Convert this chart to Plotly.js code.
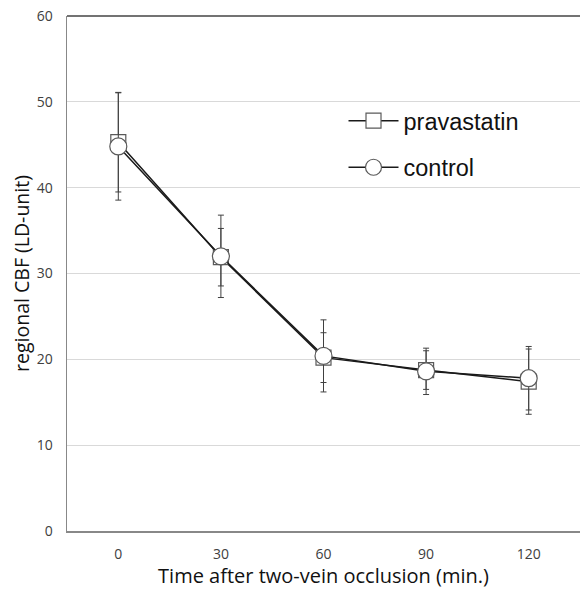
<!DOCTYPE html>
<html>
<head>
<meta charset="utf-8">
<script src="https://cdn.plot.ly/plotly-3.0.1.min.js"></script>
<style>html,body{margin:0;padding:0;background:#fff;}#chart{width:580px;height:589px;}</style>
</head>
<body>
<div id="chart"></div>
<script>
// Data
const timePoints = [0, 30, 60, 90, 120];
const tickLabels = ['0', '30', '60', '90', '120'];
const pravastatinMean = [45.3, 31.9, 20.2, 18.75, 17.4];
const pravastatinErr  = [5.8, 3.35, 2.9, 2.25, 3.8];
const controlMean     = [44.8, 32.0, 20.4, 18.6, 17.8];
const controlErr      = [6.25, 4.8, 4.2, 2.7, 3.7];
const seriesNames = ['pravastatin', 'control'];

const lineColor = '#1a1a1a';
const markerLine = '#5a5a5a';
const errColor = '#404040';

const traces = [
  {
    x: timePoints, y: pravastatinMean, name: seriesNames[0], legendgroup: 'a',
    type: 'scatter', mode: 'lines+markers',
    line: {color: lineColor, width: 1.5},
    marker: {symbol: 'square', size: 15, color: '#ffffff', line: {color: markerLine, width: 1.2}},
    error_y: {type: 'data', array: pravastatinErr, visible: true, color: errColor, thickness: 1, width: 3}
  },
  {
    x: timePoints, y: controlMean, name: seriesNames[1], legendgroup: 'b',
    type: 'scatter', mode: 'lines+markers',
    line: {color: lineColor, width: 1.5},
    marker: {symbol: 'circle', size: 17, color: '#ffffff', line: {color: markerLine, width: 1.2}},
    error_y: {type: 'data', array: controlErr, visible: true, color: errColor, thickness: 1, width: 3}
  }
];

const tickFont = {family: '"Open Sans", "Noto Sans", sans-serif', size: 14, color: '#404040'};
const layout = {
  width: 580, height: 589,
  margin: {l: 67, r: 0, t: 16, b: 58},
  paper_bgcolor: '#ffffff', plot_bgcolor: '#ffffff',
  showlegend: true,
  legend: {
    x: 0.539, y: 0.839, xanchor: 'left', yanchor: 'top',
    font: {family: '"Liberation Sans", Arial, sans-serif', size: 23.5, color: '#111111'},
    bgcolor: 'rgba(0,0,0,0)', traceorder: 'grouped', tracegroupgap: 13,
    itemwidth: 50
  },
  xaxis: {
    range: [-15, 135], tickmode: 'array', tickvals: timePoints, ticktext: tickLabels,
    showgrid: false, zeroline: false,
    showline: true, linecolor: '#888888', linewidth: 1.5,
    ticks: '', ticklabelstandoff: 10,
    tickfont: tickFont,
    title: {text: 'Time after two-vein occlusion (min.)', standoff: 6,
            font: {family: '"Open Sans", "Noto Sans", sans-serif', size: 20, color: '#111111'}}
  },
  yaxis: {
    range: [0, 60], tickvals: [0, 10, 20, 30, 40, 50, 60],
    showgrid: true, gridcolor: '#d9d9d9', gridwidth: 1, zeroline: false,
    showline: true, linecolor: '#888888', linewidth: 1.5,
    ticks: '', ticklabelstandoff: 10,
    tickfont: tickFont,
    title: {text: 'regional CBF (LD-unit)', standoff: 2,
            font: {family: '"Open Sans", "Noto Sans", sans-serif', size: 19.5, color: '#111111'}}
  },
  shapes: [
    {type: 'line', xref: 'paper', yref: 'paper', x0: 0, x1: 1, y0: 1, y1: 1,
     line: {color: '#444444', width: 1.5}}
  ]
};

Plotly.newPlot('chart', traces, layout, {displayModeBar: false, staticPlot: true});
</script>
</body>
</html>
